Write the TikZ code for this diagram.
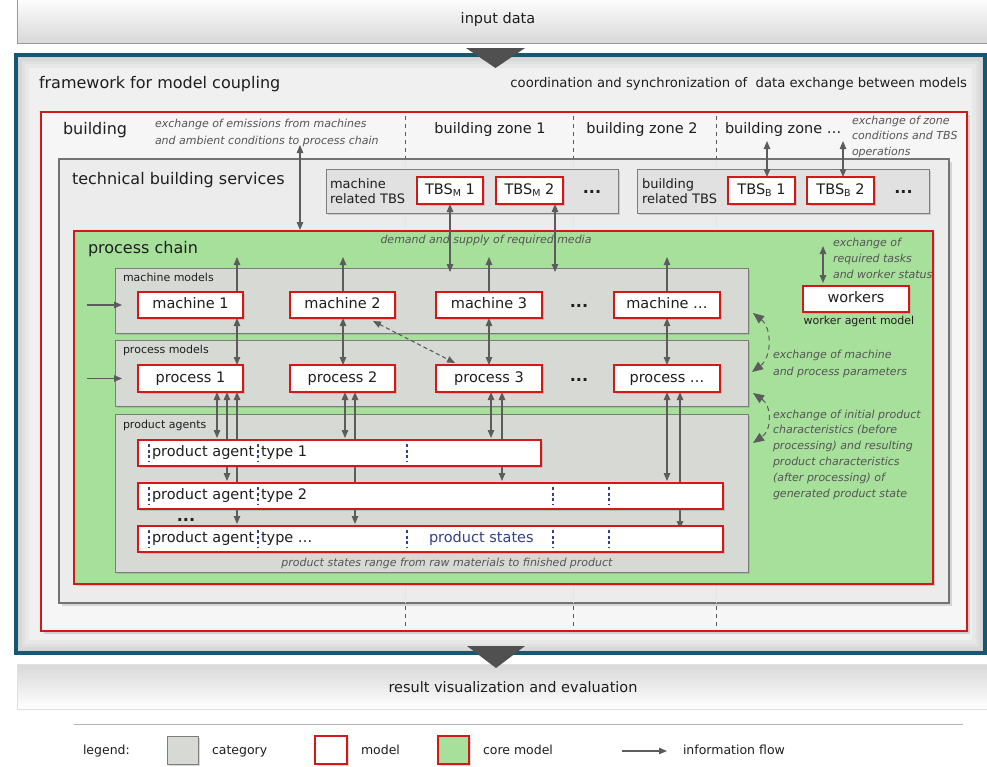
\documentclass[tikz,border=0pt]{standalone}
\usepackage{fontspec}
\setmainfont{DejaVu Sans}
\usetikzlibrary{arrows.meta,shadows,calc}
\pgfdeclarelayer{front}
\pgfsetlayers{main,front}

\definecolor{frameblue}{RGB}{24,86,114}
\definecolor{modelred}{RGB}{212,24,24}
\definecolor{coregreen}{RGB}{166,224,154}
\definecolor{catgray}{RGB}{215,217,213}
\definecolor{catline}{RGB}{125,125,125}
\definecolor{subgray}{RGB}{225,225,225}
\definecolor{tbsgray}{RGB}{236,236,236}
\definecolor{bldfill}{RGB}{246,246,246}
\definecolor{framefill}{RGB}{240,240,240}
\definecolor{bandgray}{RGB}{216,216,216}
\definecolor{flowgray}{RGB}{92,92,92}
\definecolor{notegray}{RGB}{85,85,85}
\definecolor{stateblue}{RGB}{52,64,140}
\definecolor{inkgray}{RGB}{30,30,30}
\definecolor{trigray}{RGB}{80,80,80}

\begin{document}
\begin{tikzpicture}[x=1pt,y=-1pt,
  every node/.style={inner sep=0pt,outer sep=0pt,text=inkgray},
  shade1/.style={drop shadow={shadow xshift=2pt,shadow yshift=-2pt,opacity=.3}},
  shade2/.style={drop shadow={shadow xshift=3pt,shadow yshift=-3pt,opacity=.28}},
  f16/.style={font=\fontsize{16}{19}\selectfont,text height=11.5pt,text depth=3.5pt},
  f14/.style={font=\fontsize{14.5}{17}\selectfont,text height=10.5pt,text depth=3pt},
  f13/.style={font=\fontsize{13.2}{15}\selectfont,text height=9.5pt,text depth=2.7pt},
  f12/.style={font=\fontsize{12.5}{15}\selectfont,text height=9pt,text depth=2.5pt},
  f11/.style={font=\fontsize{11}{13}\selectfont,text height=8pt,text depth=2.2pt},
  note/.style={font=\fontsize{11}{#1}\selectfont\itshape,text=notegray,align=left},
  note/.default=16,
  cat/.style={draw=catline,fill=catgray,line width=1pt,shade1},
  subcat/.style={draw=catline,fill=subgray,line width=1pt,shade1},
  mdl/.style={draw=modelred,fill=white,line width=1.8pt,shade1,f14},
  flow/.style={draw=flowgray,line width=1.1pt,-{Triangle[length=8pt,width=6.5pt]}},
  flow2/.style={draw=flowgray,line width=1.1pt,{Triangle[length=8pt,width=6.5pt]}-{Triangle[length=8pt,width=6.5pt]}},
  curv/.style={draw=flowgray,line width=1pt,dash pattern=on 5pt off 4pt,{Triangle[length=11pt,width=9pt]}-{Triangle[length=11pt,width=9pt]}},
  zone/.style={draw=black!65,line width=.8pt,dash pattern=on 4pt off 4pt},
  faint/.style={draw=black!10,line width=.8pt},
  sep/.style={draw=stateblue,line width=1.3pt,dash pattern=on 3pt off 2.5pt,shorten <=4pt,shorten >=4pt},
  dots/.style={font=\fontsize{16}{16}\selectfont\bfseries,text height=11pt,text depth=0pt}
]
\useasboundingbox (0,0) rectangle (987,766);

% ---------- input / output bands ----------
\node[draw=black!40,line width=.6pt,top color=white,bottom color=bandgray,
      minimum width=972pt,minimum height=46pt] (inband) at (503,20) {};
\node[draw=black!12,line width=.6pt,top color=bandgray,bottom color=white,
      minimum width=972pt,minimum height=45pt] (outband) at (503,686.5) {};

% ---------- coupling framework ----------
\node[draw=frameblue,line width=4pt,fill=framefill,
      minimum width=969pt,minimum height=598pt] (fw) at (500.5,354) {};
\begin{scope}
  \clip (fw.south west) rectangle (fw.north east);
  \foreach \w in {6,12,18,26}
    \draw[black,opacity=.03,line width=\w pt] (fw.south west) rectangle (fw.north east);
\end{scope}
\draw[frameblue,line width=4pt] (fw.south west) rectangle (fw.north east);

\fill[trigray] (466,48) -- (525,48) -- (495.5,68) -- cycle;
\fill[trigray] (467,646) -- (525,646) -- (496,668) -- cycle;

% ---------- building ----------
\node[draw=modelred,line width=1.8pt,fill=bldfill,shade2,
      minimum width=926pt,minimum height=519pt] (bld) at (504,371.5) {};
\foreach \x in {405,573,716}{
  \draw[zone] (\x,116) -- (\x,158);
  \draw[zone] (\x,606) -- (\x,629);
}

% ---------- technical building services ----------
\node[draw=black!55,line width=1.2pt,fill=tbsgray,shade2,
      minimum width=890pt,minimum height=444pt] (tbs) at (504,381) {};
\foreach \x in {405,573,716}{
  \draw[faint] (\x,160) -- (\x,231);
  \draw[faint] (\x,585) -- (\x,603);
}
\node[subcat,minimum width=292pt,minimum height=44pt] (tbsm) at (472,191) {};
\node[subcat,minimum width=292pt,minimum height=44pt] (tbsb) at (783,191) {};

% ---------- process chain ----------
\node[draw=modelred,line width=1.8pt,fill=coregreen,shade1,
      minimum width=859pt,minimum height=353pt] (pc) at (503.5,407.5) {};
\node[cat,minimum width=633pt,minimum height=65pt]  (mm)  at (431.5,300.5) {};
\node[cat,minimum width=633pt,minimum height=66pt]  (pm)  at (431.5,373) {};
\node[cat,minimum width=633pt,minimum height=158pt] (pam) at (431.5,493) {};

% ---------- models and labels (front layer) ----------
\begin{pgfonlayer}{front}
  \node[f14] (inlbl) at (498,20) {input data};
  \node[f14] (outlbl) at (513,689) {result visualization and evaluation};

  \node[f16,anchor=west] (fwlbl) at (39,84) {framework for model coupling};
  \node[f13,anchor=east] (coordlbl) at (967,84) {coordination and synchronization of~ data exchange between models};

  \node[f16,anchor=west] (bldlbl) at (63,130) {building};
  \node[note=17,anchor=west] (emis) at (155,132.5) {exchange of emissions from machines\\and ambient conditions to process chain};
  \node[f14] (z1) at (490,130) {building zone 1};
  \node[f14] (z2) at (642,130) {building zone 2};
  \node[f14,anchor=west] (z3) at (725,130) {building zone \dots};
  \node[note=15.5,anchor=west] (zonenote) at (852,136.5) {exchange of zone\\conditions and TBS\\operations};

  \node[f16,anchor=west] (tbslbl) at (72,180) {technical building services};
  \node[anchor=west,align=left,font=\fontsize{13}{14.5}\selectfont] (tbsmlbl) at (330,191) {machine\\related TBS};
  \node[anchor=west,align=left,font=\fontsize{13}{14.5}\selectfont] (tbsblbl) at (642,191) {building\\related TBS};
  \node[mdl,minimum width=66pt,minimum height=27pt] (tm1) at (450,190.5) {TBS\raisebox{-2pt}{\fontsize{9.5}{10}\selectfont M} 1};
  \node[mdl,minimum width=67pt,minimum height=27pt] (tm2) at (529.5,190.5) {TBS\raisebox{-2pt}{\fontsize{9.5}{10}\selectfont M} 2};
  \node[dots] (tmd) at (592,188) {...};
  \node[mdl,minimum width=67pt,minimum height=27pt] (tb1) at (761.5,190.5) {TBS\raisebox{-2pt}{\fontsize{9.5}{10}\selectfont B} 1};
  \node[mdl,minimum width=67pt,minimum height=27pt] (tb2) at (840.5,190.5) {TBS\raisebox{-2pt}{\fontsize{9.5}{10}\selectfont B} 2};
  \node[dots] (tbd) at (903.5,188) {...};

  \node[f16,anchor=west] (pclbl) at (88,249) {process chain};
  \node[note] (media) at (486,240) {demand and supply of required media};

  \node[f11,anchor=west] (mmlbl) at (123,279) {machine models};
  \node[f11,anchor=west] (pmlbl) at (123,351) {process models};
  \node[f11,anchor=west] (palbl) at (123,426) {product agents};

  \node[mdl,minimum width=105pt,minimum height=26pt] (m1) at (190.5,305) {machine 1};
  \node[mdl,minimum width=105pt,minimum height=26pt] (m2) at (342.5,305) {machine 2};
  \node[mdl,minimum width=106pt,minimum height=26pt] (m3) at (489,305) {machine 3};
  \node[dots] (md) at (579,302) {...};
  \node[mdl,minimum width=106pt,minimum height=26pt] (m4) at (667,305) {machine \dots};

  \node[mdl,minimum width=105pt,minimum height=27pt] (p1) at (190.5,378.5) {process 1};
  \node[mdl,minimum width=105pt,minimum height=27pt] (p2) at (342.5,378.5) {process 2};
  \node[mdl,minimum width=106pt,minimum height=27pt] (p3) at (489,378.5) {process 3};
  \node[dots] (pd) at (579,375.5) {...};
  \node[mdl,minimum width=106pt,minimum height=27pt] (p4) at (667,378.5) {process \dots};

  \node[mdl,minimum width=403pt,minimum height=26pt] (pa1) at (339.5,453) {};
  \node[mdl,minimum width=585pt,minimum height=26pt] (pa2) at (430.5,496) {};
  \node[mdl,minimum width=585pt,minimum height=26pt] (pa3) at (430.5,539) {};
  \node[dots] (pad) at (186,516) {...};

  \coordinate (s1) at (149,0);
  \coordinate (s2) at (258,0);
  \coordinate (s3) at (407,0);
  \coordinate (s4) at (553,0);
  \coordinate (s5) at (609,0);
  \foreach \s in {s1,s2,s3} \draw[sep] (pa1.north -| \s) -- (pa1.south -| \s);
  \foreach \s in {s1,s2,s4,s5} \draw[sep] (pa2.north -| \s) -- (pa2.south -| \s);
  \foreach \s in {s1,s2,s3,s4,s5} \draw[sep] (pa3.north -| \s) -- (pa3.south -| \s);

  \node[f14,anchor=west] (pa1a) at (152,453) {product agent};
  \node[f14,anchor=west] (pa1b) at (261,453) {type 1};
  \node[f14,anchor=west] (pa2a) at (152,496) {product agent};
  \node[f14,anchor=west] (pa2b) at (261,496) {type 2};
  \node[f14,anchor=west] (pa3a) at (152,539) {product agent};
  \node[f14,anchor=west] (pa3b) at (261,539) {type \dots};
  \node[f14,anchor=west,text=stateblue] (states) at (429,539) {product states};
  \node[note] (range) at (447,563) {product states range from raw materials to finished product};

  \node[mdl,minimum width=106pt,minimum height=26pt] (wo) at (856,299) {workers};
  \node[f11] (wolbl) at (859,322) {worker agent model};
  \node[note,anchor=west] (wonote) at (833,258) {exchange of\\required tasks\\and worker status};
  \node[note=17,anchor=west] (parnote) at (773,363.5) {exchange of machine\\and process parameters};
  \node[note=15.8,anchor=west] (prodnote) at (773,454.5) {exchange of initial product\\characteristics (before\\processing) and resulting\\product characteristics\\(after processing) of\\generated product state};

  % legend
  \node[f12,anchor=west] (lg) at (83,751) {legend:};
  \node[cat,minimum width=31pt,minimum height=28pt] (lgcat) at (182.5,750) {};
  \node[f12,anchor=west] (lgcatt) at (212,751) {category};
  \node[draw=modelred,fill=white,line width=1.8pt,shade1,minimum width=32pt,minimum height=28pt] (lgmod) at (331,750) {};
  \node[f12,anchor=west] (lgmodt) at (361,751) {model};
  \node[draw=modelred,fill=coregreen,line width=1.8pt,shade1,minimum width=31pt,minimum height=28pt] (lgcore) at (453.5,750) {};
  \node[f12,anchor=west] (lgcoret) at (483,751) {core model};
  \coordinate (lga) at (622,751);
  \node[f12,anchor=west] (lgflow) at (683,751) {information flow};
\end{pgfonlayer}

\draw[black!30,line width=1pt] (74,724) -- (963,724);
\draw[flow] (lga) -- ($(lgflow.west)+(-16,0)$);

% ---------- information flows ----------
\coordinate (xb) at (300,145);
\draw[flow2,shorten >=1pt] (xb) -- (xb |- pc.north);

\coordinate (xm2) at (555,0);
\draw[flow2,shorten >=-4pt] (tm1.south) -- (tm1.south |- mm.north);
\draw[flow2,shorten >=-4pt] (tm2.south -| xm2) -- (mm.north -| xm2);

\coordinate (zb1) at (767,141);
\coordinate (zb2) at (843,141);
\draw[flow2] (zb1) -- (zb1 |- tb1.north);
\draw[flow2] (zb2) -- (zb2 |- tb2.north);

\coordinate (u1) at (237,257);
\coordinate (u2) at (343,257);
\coordinate (u3) at (489,257);
\coordinate (u4) at (667,257);
\draw[flow] (m1.north -| u1) -- (u1);
\draw[flow] (m2.north -| u2) -- (u2);
\draw[flow] (m3.north -| u3) -- (u3);
\draw[flow] (m4.north -| u4) -- (u4);
\draw[flow2] (m1.south -| u1) -- (p1.north -| u1);
\draw[flow2] (m2.south -| u2) -- (p2.north -| u2);
\draw[flow2] (m3.south -| u3) -- (p3.north -| u3);
\draw[flow2] (m4.south -| u4) -- (p4.north -| u4);

\draw[flow2,dash pattern=on 4pt off 3pt] ($(m2.south east)+(-22,3)$) -- ($(p3.north west)+(19,-2)$);

\coordinate (im) at (87,305);
\coordinate (ip) at (87,378.5);
\draw[flow,shorten >=-7pt] (im) -- (im -| mm.west);
\draw[flow,shorten >=-7pt] (ip) -- (ip -| pm.west);

\coordinate (a1) at (217,0);
\coordinate (a2) at (227,0);
\coordinate (a3) at (237,0);
\coordinate (b1) at (345,0);
\coordinate (b2) at (355,0);
\coordinate (c1) at (491,0);
\coordinate (c2) at (502,0);
\coordinate (d1) at (667,0);
\coordinate (d2) at (680,0);
\draw[flow2,shorten >=2pt] (p1.south -| a1) -- (pa1.north -| a1);
\draw[flow2,shorten >=2pt] (p1.south -| a2) -- (pa2.north -| a2);
\draw[flow2,shorten >=2pt] (p1.south -| a3) -- (pa3.north -| a3);
\draw[flow2,shorten >=2pt] (p2.south -| b1) -- (pa1.north -| b1);
\draw[flow2,shorten >=2pt] (p2.south -| b2) -- (pa3.north -| b2);
\draw[flow2,shorten >=2pt] (p3.south -| c1) -- (pa1.north -| c1);
\draw[flow2,shorten >=2pt] (p3.south -| c2) -- (pa2.north -| c2);
\draw[flow2,shorten >=2pt] (p4.south -| d1) -- (pa2.north -| d1);
\draw[flow2,shorten >=-3pt] (p4.south -| d2) -- (pa3.north -| d2);

\coordinate (wk) at (823,246);
\draw[flow2,shorten >=3pt] (wk) -- (wk |- wo.north);

\coordinate (ca1) at (753,313);
\coordinate (ca2) at (752,372);
\coordinate (cb1) at (753,393);
\coordinate (cb2) at (753,443);
\draw[curv] (ca1) .. controls (772,328) and (772,357) .. (ca2);
\draw[curv] (cb1) .. controls (772,406) and (772,430) .. (cb2);
\end{tikzpicture}
\end{document}
